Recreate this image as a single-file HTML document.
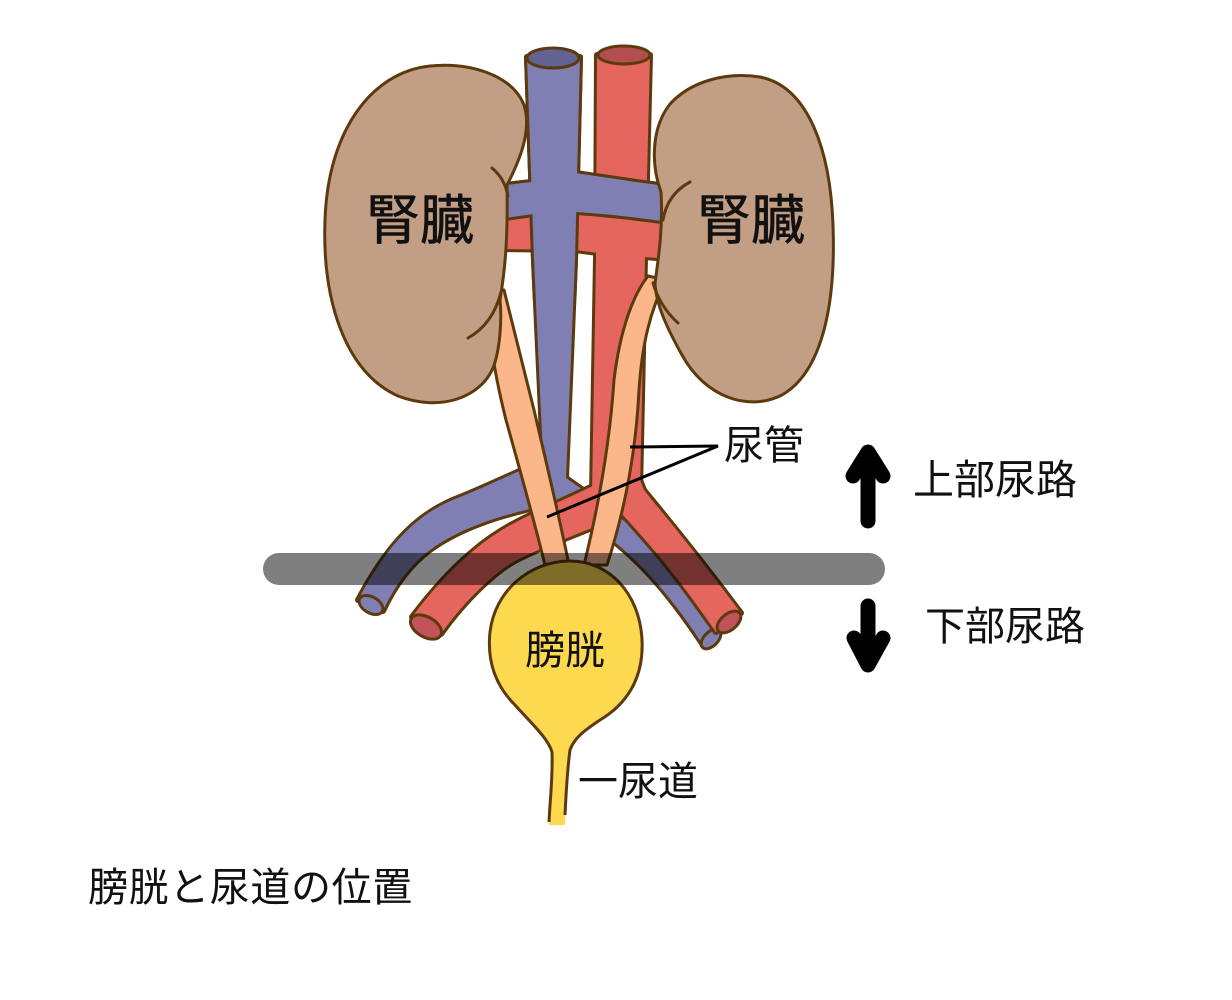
<!DOCTYPE html>
<html><head><meta charset="utf-8"><style>
html,body{margin:0;padding:0;background:#fff;}
svg{display:block;}
text{font-family:"Liberation Sans","Noto Sans CJK JP",sans-serif;fill:#111;}
</style></head><body>
<svg width="1232" height="1000" viewBox="0 0 1232 1000" xmlns="http://www.w3.org/2000/svg">
<defs>
<clipPath id="top"><rect x="0" y="0" width="1232" height="300"/></clipPath>
</defs>
<g stroke-linejoin="round">
<!-- VEIN GROUP -->
<g fill="#7f7fb4" stroke="#5c3a0e" stroke-width="6">
<path d="M527,57 L580,57 L575,260 L566,478 L545,500 L534,260 Z"/>
<path d="M498,186 L540,181 L575,173 C610,178 640,183 668,186 L668,222 C640,218 610,214 575,212 L540,213 L498,219 Z"/>
<path d="M545,460 C520,470 490,485 460,497 C420,512 390,540 358,600 L383,611 C395,585 410,565 430,550 C460,528 500,515 548,505 Z"/>
<path d="M560,468 L566,478 C590,495 620,515 645,540 C675,570 700,605 720,632 L703,645 C680,610 660,585 640,565 C610,535 580,515 545,500 Z"/>
</g>
<g fill="#7f7fb4" stroke="none">
<path d="M527,57 L580,57 L575,260 L566,478 L545,500 L534,260 Z"/>
<path d="M498,186 L540,181 L575,173 C610,178 640,183 668,186 L668,222 C640,218 610,214 575,212 L540,213 L498,219 Z"/>
<path d="M545,460 C520,470 490,485 460,497 C420,512 390,540 358,600 L383,611 C395,585 410,565 430,550 C460,528 500,515 548,505 Z"/>
<path d="M560,468 L566,478 C590,495 620,515 645,540 C675,570 700,605 720,632 L703,645 C680,610 660,585 640,565 C610,535 580,515 545,500 Z"/>
</g>
<ellipse cx="371" cy="605" rx="13" ry="8" transform="rotate(30 371 605)" fill="#7f7fb4" stroke="#5c3a0e" stroke-width="3"/>
<ellipse cx="711" cy="639" rx="12" ry="7" transform="rotate(-45 711 639)" fill="#7f7fb4" stroke="#5c3a0e" stroke-width="3"/>

<!-- ARTERY GROUP -->
<g fill="#e5665f" stroke="#5c3a0e" stroke-width="6">
<path d="M597,55 L650,55 L645,258 L640,490 L620,514 L592,495 L596,258 Z"/>
<path d="M500,214 L668,214 L668,259 L645,257 L598,253 L575,250 L500,249 Z"/>
<path d="M605,480 C575,495 540,510 520,520 C490,535 455,560 412,617 L441,634 C465,600 495,572 515,561 C540,548 575,535 612,520 Z"/>
<path d="M636,470 L644,490 C660,510 690,545 741,613 L716,632 C690,595 665,560 620,512 Z"/>
</g>
<g fill="#e5665f" stroke="none">
<path d="M597,55 L650,55 L645,258 L640,490 L620,514 L592,495 L596,258 Z"/>
<path d="M500,214 L668,214 L668,259 L645,257 L598,253 L575,250 L500,249 Z"/>
<path d="M605,480 C575,495 540,510 520,520 C490,535 455,560 412,617 L441,634 C465,600 495,572 515,561 C540,548 575,535 612,520 Z"/>
<path d="M636,470 L644,490 C660,510 690,545 741,613 L716,632 C690,595 665,560 620,512 Z"/>
</g>
<ellipse cx="426" cy="627" rx="17" ry="10" transform="rotate(30 426 627)" fill="#c0525a" stroke="#5c3a0e" stroke-width="3"/>
<ellipse cx="729" cy="622" rx="14" ry="8" transform="rotate(-40 729 622)" fill="#c0525a" stroke="#5c3a0e" stroke-width="3"/>
<ellipse cx="624" cy="55" rx="26" ry="9" fill="#b44e4f" stroke="#5c3a0e" stroke-width="3"/>

<!-- IVC + renal vein redraw on top (upper region) -->
<g clip-path="url(#top)">
<g fill="#7f7fb4" stroke="#5c3a0e" stroke-width="6">
<path d="M527,57 L580,57 L575,260 L566,478 L545,500 L534,260 Z"/>
<path d="M498,186 L540,181 L575,173 C610,178 640,183 668,186 L668,222 C640,218 610,214 575,212 L540,213 L498,219 Z"/>
</g>
<g fill="#7f7fb4" stroke="none">
<path d="M527,57 L580,57 L575,260 L566,478 L545,500 L534,260 Z"/>
<path d="M498,186 L540,181 L575,173 C610,178 640,183 668,186 L668,222 C640,218 610,214 575,212 L540,213 L498,219 Z"/>
</g>
</g>
<ellipse cx="553" cy="58" rx="26" ry="10" fill="#626392" stroke="#5c3a0e" stroke-width="3"/>

<!-- URETERS -->
<path d="M488,290 L504,290 C514,330 524,370 534,410 C548,470 560,520 569,565 L545,565 C534,520 520,470 506,420 C496,380 488,340 488,290 Z" fill="#fbb68a" stroke="#5c3a0e" stroke-width="3"/>
<path d="M648,276 L666,280 C650,310 642,345 639,390 C636,450 625,510 607,565 L584,565 C600,500 610,440 614,380 C620,330 633,295 648,276 Z" fill="#fbb68a" stroke="#5c3a0e" stroke-width="3"/>

<!-- KIDNEYS -->
<path d="M507,185 C520,160 532,130 524,105 C512,75 470,62 430,66 C372,72 328,130 325,220 C322,300 345,372 398,396 C440,412 480,398 493,368 C500,350 502,320 500,300 C505,270 508,240 507,185 Z" fill="#c29e84" stroke="#5c3a0e" stroke-width="3"/>
<path d="M492,168 C500,175 505,182 508,196" fill="none" stroke="#5c3a0e" stroke-width="3" stroke-linecap="round"/>
<path d="M501,292 C496,312 486,328 468,338" fill="none" stroke="#5c3a0e" stroke-width="3" stroke-linecap="round"/>
<path d="M661,192 C651,165 651,128 670,104 C692,80 728,72 760,77 C806,86 830,145 833,225 C836,305 822,372 782,395 C748,412 705,397 682,355 C668,330 656,305 655,283 C659,255 663,225 661,192 Z" fill="#c29e84" stroke="#5c3a0e" stroke-width="3"/>
<path d="M690,182 C675,190 666,202 663,220" fill="none" stroke="#5c3a0e" stroke-width="3" stroke-linecap="round"/>
<path d="M653,283 C658,300 667,313 678,323" fill="none" stroke="#5c3a0e" stroke-width="3" stroke-linecap="round"/>

<!-- BLADDER -->
<path d="M568,561 C610,560 640,595 642,640 C644,680 625,705 600,720 C585,730 574,738 570,750 C567,775 566,800 565,825 L549,825 C550,800 553,775 552,752 C548,738 530,722 515,705 C495,685 487,660 490,632 C495,590 530,562 568,561 Z" fill="#fdd94f"/>
<path d="M549,822 C550,800 553,775 552,752 C548,738 530,722 515,705 C495,685 487,660 490,632 C495,590 530,562 568,561 C610,560 640,595 642,640 C644,680 625,705 600,720 C585,730 574,738 570,750 C567,772 566,795 565,815" fill="none" stroke="#5c3a0e" stroke-width="3"/>
</g>

<!-- GRAY BAR -->
<rect x="263" y="553" width="622" height="32" rx="16" ry="16" fill="#000" fill-opacity="0.5"/>

<!-- LEADER LINES -->
<polyline points="630,447 718,446 547,517" fill="none" stroke="#000" stroke-width="3"/>

<!-- ARROWS -->
<g stroke="#000" stroke-width="15" stroke-linecap="round" stroke-linejoin="round" fill="none">
<line x1="868" y1="521" x2="868" y2="456"/>
<polyline points="853,476 868,452 883,476"/>
<line x1="868" y1="606" x2="868" y2="662"/>
<polyline points="854,638 868,665 883,638"/>
</g>

<!-- TEXT -->
<text x="420" y="239" font-size="54" text-anchor="middle" stroke="#111" stroke-width="0.6">腎臓</text>
<text x="751" y="239" font-size="54" text-anchor="middle" stroke="#111" stroke-width="0.6">腎臓</text>
<text x="724" y="459" font-size="40">尿管</text>
<text x="913" y="494" font-size="41">上部尿路</text>
<text x="925" y="640" font-size="40">下部尿路</text>
<text x="565" y="664" font-size="40" text-anchor="middle">膀胱</text>
<text x="578" y="795" font-size="40">一尿道</text>
<text x="88" y="901" font-size="40" letter-spacing="0.6">膀胱と尿道の位置</text>
</svg>
</body></html>
